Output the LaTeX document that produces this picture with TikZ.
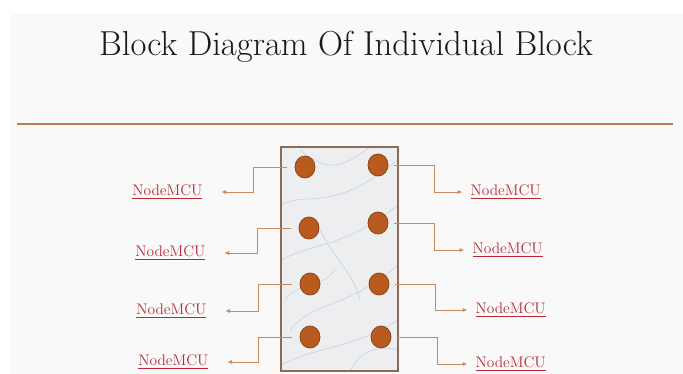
\documentclass[tikz,border=0pt]{standalone}
\usetikzlibrary{shapes.geometric,arrows.meta}
\definecolor{slidebg}{HTML}{F9F9F9}
\definecolor{rulebrown}{HTML}{C27A4E}
\definecolor{edgebrown}{HTML}{8C6B58}
\definecolor{marble}{HTML}{ECEEF0}
\definecolor{vein}{HTML}{9AA5B1}
\definecolor{boltfill}{HTML}{B95A1E}
\definecolor{boltedge}{HTML}{8A4318}
\definecolor{wirecol}{HTML}{C98A62}
\definecolor{mcured}{HTML}{B52A35}
\tikzset{
  headline/.style={font=\fontsize{26}{30}\selectfont, text=black!90, inner sep=0pt},
  bolt/.style={ellipse, draw=boltedge, line width=0.6pt, fill=boltfill, minimum width=15pt, minimum height=16.5pt, inner sep=0pt},
  mcu/.style={font=\fontsize{11.5}{13}\selectfont, text=mcured, inner sep=1pt},
  wire/.style={draw=wirecol, line width=0.6pt, -{Latex[length=3.5pt,width=3pt]}},
  wireL/.style={wire, shorten <=6pt, shorten >=13pt},
  wireR/.style={wire, shorten <=4pt, shorten >=5pt},
  blockedge/.style={draw=edgebrown, line width=1pt},
  veinline/.style={draw=vein, line width=0.5pt, opacity=0.35},
}

\begin{document}
\begin{tikzpicture}[x=0.75pt, y=-0.75pt]  % 1 unit = 1 px, y down
  \useasboundingbox (0,0) rectangle (683,374);
  \fill[white] (0,0) rectangle (683,374);
  \fill[slidebg] (10,13) rectangle (683,374);
  % heading and rule
  \node[headline, anchor=base] (heading) at (346,56) {Block Diagram Of Individual Block};
  \draw[rulebrown, line width=0.8pt] (17,124) -- (673,124);
  % marble block
  \fill[marble] (281,147) rectangle (398,371);
  \begin{scope}
    \clip (281,147) rectangle (398,371);
    \draw[veinline] (281,205) .. controls (310,190) and (330,215) .. (398,160);
    \draw[veinline] (281,260) .. controls (320,240) and (340,250) .. (398,205);
    \draw[veinline] (290,330) .. controls (315,300) and (345,310) .. (398,265);
    \draw[veinline] (281,365) .. controls (320,345) and (350,350) .. (398,320);
    \draw[veinline] (300,150) .. controls (330,175) and (345,165) .. (370,147);
    \draw[veinline] (320,230) .. controls (335,260) and (355,275) .. (360,300);
    \draw[veinline] (285,300) .. controls (300,280) and (320,290) .. (335,270);
    \draw[veinline] (350,371) .. controls (360,350) and (380,345) .. (398,350);
  \end{scope}
  \draw[blockedge] (281,147) rectangle (398,371);
  % bolts
  \node[bolt] (boltL1) at (305,167) {};
  \node[bolt] (boltL2) at (309,228) {};
  \node[bolt] (boltL3) at (310,284) {};
  \node[bolt] (boltL4) at (310,337) {};
  \node[bolt] (boltR1) at (378,165) {};
  \node[bolt] (boltR2) at (378,223) {};
  \node[bolt] (boltR3) at (379,284) {};
  \node[bolt] (boltR4) at (381,337) {};
  % NodeMCU labels
  \node[mcu, anchor=east] (mcuL1) at (204,192) {\underline{NodeMCU}};
  \node[mcu, anchor=east] (mcuL2) at (207,253) {\underline{NodeMCU}};
  \node[mcu, anchor=east] (mcuL3) at (208,311) {\underline{NodeMCU}};
  \node[mcu, anchor=east] (mcuL4) at (210,362) {\underline{NodeMCU}};
  \node[mcu, anchor=west] (mcuR1) at (469,192) {\underline{NodeMCU}};
  \node[mcu, anchor=west] (mcuR2) at (471,250) {\underline{NodeMCU}};
  \node[mcu, anchor=west] (mcuR3) at (474,310) {\underline{NodeMCU}};
  \node[mcu, anchor=west] (mcuR4) at (474,364) {\underline{NodeMCU}};
  % wires
  \foreach \i in {1,...,4}{
    \draw[wireL] (boltL\i.west) -- ++(-41,0) |- (mcuL\i.east);
    \draw[wireR] (boltR\i.east) -- ++(46,0) |- (mcuR\i.west);
  }
\end{tikzpicture}
\end{document}
